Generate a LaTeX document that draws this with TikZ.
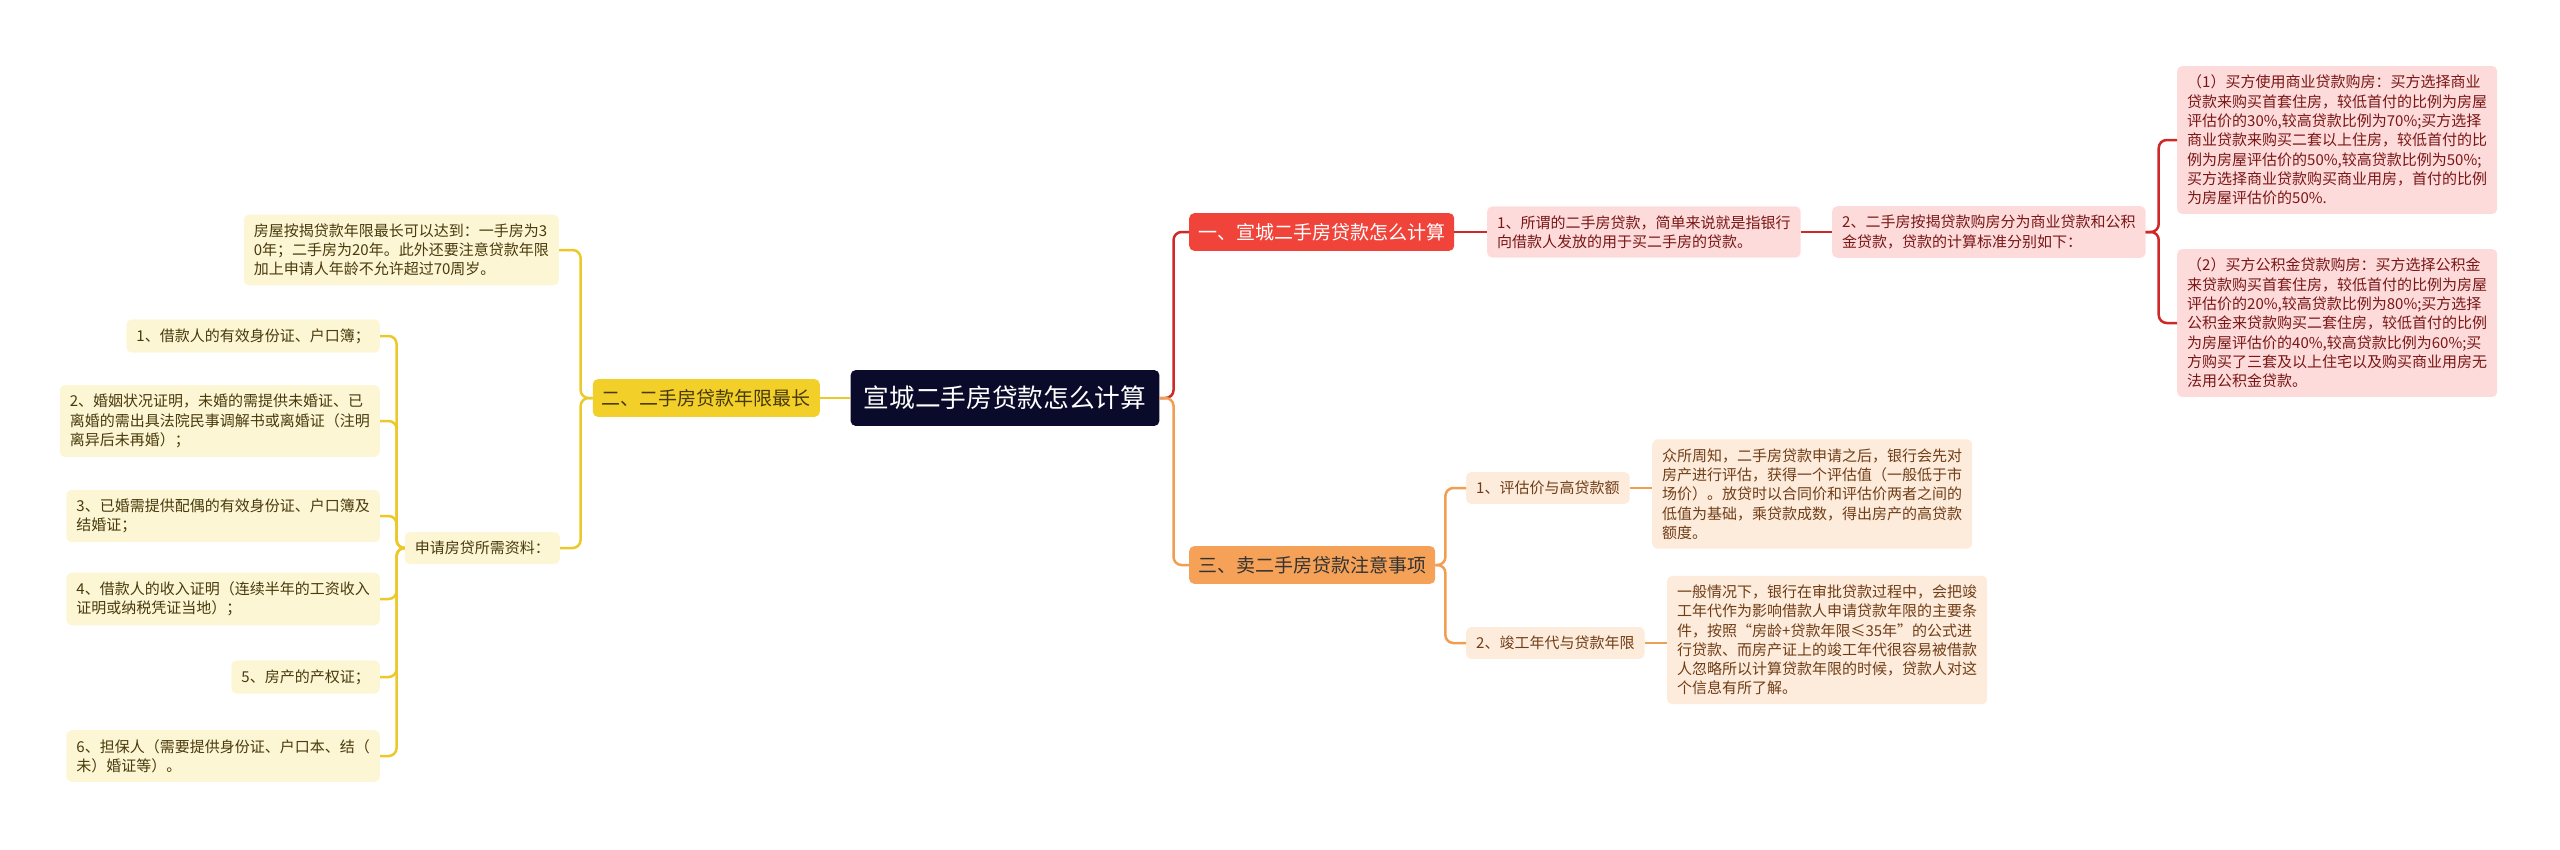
\documentclass[tikz,border=0pt]{standalone}
\usepackage{fontspec}
\newfontfamily\cjk{Noto Sans CJK SC}
\usepackage{tikz}

\definecolor{rootfill}{RGB}{10,10,42}
\definecolor{yfill}{RGB}{242,208,41}
\definecolor{ylight}{RGB}{253,246,212}
\definecolor{ytext}{RGB}{72,58,12}
\definecolor{ylinec}{RGB}{236,201,42}
\definecolor{rfill}{RGB}{240,68,58}
\definecolor{rlight}{RGB}{253,219,219}
\definecolor{rtext}{RGB}{122,22,22}
\definecolor{rlinec}{RGB}{208,40,40}
\definecolor{ofill}{RGB}{245,162,88}
\definecolor{olight}{RGB}{253,235,220}
\definecolor{otext}{RGB}{112,62,22}
\definecolor{olinec}{RGB}{239,158,82}

\tikzset{
  box/.style={rounded corners=5, inner xsep=10, inner ysep=9, align=left},
  leaf/.style={box, font=\cjk\fontsize{15}{19.3}\selectfont},
  branch/.style={box, inner xsep=9, inner ysep=10, font=\cjk\fontsize{19}{24}\selectfont},
  rootbox/.style={box, fill=rootfill, text=white, inner xsep=13, inner ysep=16,
    font=\cjk\fontsize{25.7}{30}\selectfont},
  ybranch/.style={branch, fill=yfill, text=ytext},
  yleaf/.style={leaf, fill=ylight, text=ytext},
  rbranch/.style={branch, fill=rfill, text=white},
  rleaf/.style={leaf, fill=rlight, text=rtext},
  obranch/.style={branch, fill=ofill, text=black!80},
  oleaf/.style={leaf, fill=olight, text=otext},
  yline/.style={draw=ylinec, line width=2.5, rounded corners=8},
  rline/.style={draw=rlinec, line width=2.5, rounded corners=8},
  oline/.style={draw=olinec, line width=2.5, rounded corners=8}
}

\begin{document}
\begin{tikzpicture}[x=1pt,y=-1pt]
\useasboundingbox (0,0) rectangle (2560,849);

\node[rootbox] (root) at (1005,398) {宣城二手房贷款怎么计算};

\node[ybranch, anchor=east] (nianxian) at (820,398) {二、二手房贷款年限最长};
\node[yleaf, anchor=east] (zuichang) at (559,250) {房屋按揭贷款年限最长可以达到：一手房为3\\0年；二手房为20年。此外还要注意贷款年限\\加上申请人年龄不允许超过70周岁。};
\node[yleaf, anchor=east] (ziliao) at (560,548) {申请房贷所需资料：};
\node[yleaf, anchor=east] (zl1) at (380,336) {1、借款人的有效身份证、户口簿；};
\node[yleaf, anchor=east] (zl2) at (380,421) {2、婚姻状况证明，未婚的需提供未婚证、已\\离婚的需出具法院民事调解书或离婚证（注明\\离异后未再婚）；};
\node[yleaf, anchor=east] (zl3) at (380,516) {3、已婚需提供配偶的有效身份证、户口簿及\\结婚证；};
\node[yleaf, anchor=east] (zl4) at (380,599) {4、借款人的收入证明（连续半年的工资收入\\证明或纳税凭证当地）；};
\node[yleaf, anchor=east] (zl5) at (380,677) {5、房产的产权证；};
\node[yleaf, anchor=east] (zl6) at (380,756) {6、担保人（需要提供身份证、户口本、结（\\未）婚证等）。};

\node[rbranch, anchor=west] (jisuan) at (1189,232) {一、宣城二手房贷款怎么计算};
\node[rleaf, anchor=west] (suowei) at (1487,232) {1、所谓的二手房贷款，简单来说就是指银行\\向借款人发放的用于买二手房的贷款。};
\node[rleaf, anchor=west] (fenwei) at (1832,232) {2、二手房按揭贷款购房分为商业贷款和公积\\金贷款，贷款的计算标准分别如下：};
\node[rleaf, anchor=west] (shangye) at (2177,140) {（1）买方使用商业贷款购房：买方选择商业\\贷款来购买首套住房，较低首付的比例为房屋\\评估价的30\%,较高贷款比例为70\%;买方选择\\商业贷款来购买二套以上住房，较低首付的比\\例为房屋评估价的50\%,较高贷款比例为50\%;\\买方选择商业贷款购买商业用房，首付的比例\\为房屋评估价的50\%.};
\node[rleaf, anchor=west] (gongjijin) at (2177,323) {（2）买方公积金贷款购房：买方选择公积金\\来贷款购买首套住房，较低首付的比例为房屋\\评估价的20\%,较高贷款比例为80\%;买方选择\\公积金来贷款购买二套住房，较低首付的比例\\为房屋评估价的40\%,较高贷款比例为60\%;买\\方购买了三套及以上住宅以及购买商业用房无\\法用公积金贷款。};

\node[obranch, anchor=west] (zhuyi) at (1189,565) {三、卖二手房贷款注意事项};
\node[oleaf, anchor=west] (pinggu) at (1466,488) {1、评估价与高贷款额};
\node[oleaf, anchor=west] (pinggutxt) at (1652,494) {众所周知，二手房贷款申请之后，银行会先对\\房产进行评估，获得一个评估值（一般低于市\\场价）。放贷时以合同价和评估价两者之间的\\低值为基础，乘贷款成数，得出房产的高贷款\\额度。};
\node[oleaf, anchor=west] (jungong) at (1466,643) {2、竣工年代与贷款年限};
\node[oleaf, anchor=west] (jungongtxt) at (1667,640) {一般情况下，银行在审批贷款过程中，会把竣\\工年代作为影响借款人申请贷款年限的主要条\\件，按照“房龄+贷款年限≤35年”的公式进\\行贷款、而房产证上的竣工年代很容易被借款\\人忽略所以计算贷款年限的时候，贷款人对这\\个信息有所了解。};

\draw[yline] (root.west) -- (nianxian.east);
\draw[yline] (nianxian.west) -- ++(-12,0) |- (zuichang.east);
\draw[yline] (nianxian.west) -- ++(-12,0) |- (ziliao.east);
\foreach \n in {zl1,zl2,zl3,zl4,zl5,zl6}
  \draw[yline] (ziliao.west) -- ++(-8,0) |- (\n.east);

\draw[rline] (root.east) -- ++(14,0) |- (jisuan.west);
\draw[oline] (root.east) -- ++(14,0) |- (zhuyi.west);

\draw[rline] (jisuan.east) -- (suowei.west);
\draw[rline] (suowei.east) -- (fenwei.west);
\draw[rline] (fenwei.east) -- ++(13,0) |- (shangye.west);
\draw[rline] (fenwei.east) -- ++(13,0) |- (gongjijin.west);

\draw[oline] (zhuyi.east) -- ++(10,0) |- (pinggu.west);
\draw[oline] (zhuyi.east) -- ++(10,0) |- (jungong.west);
\draw[oline] (pinggu.east) -- (pinggutxt.west |- pinggu.east);
\draw[oline] (jungong.east) -- (jungongtxt.west |- jungong.east);
\end{tikzpicture}
\end{document}
